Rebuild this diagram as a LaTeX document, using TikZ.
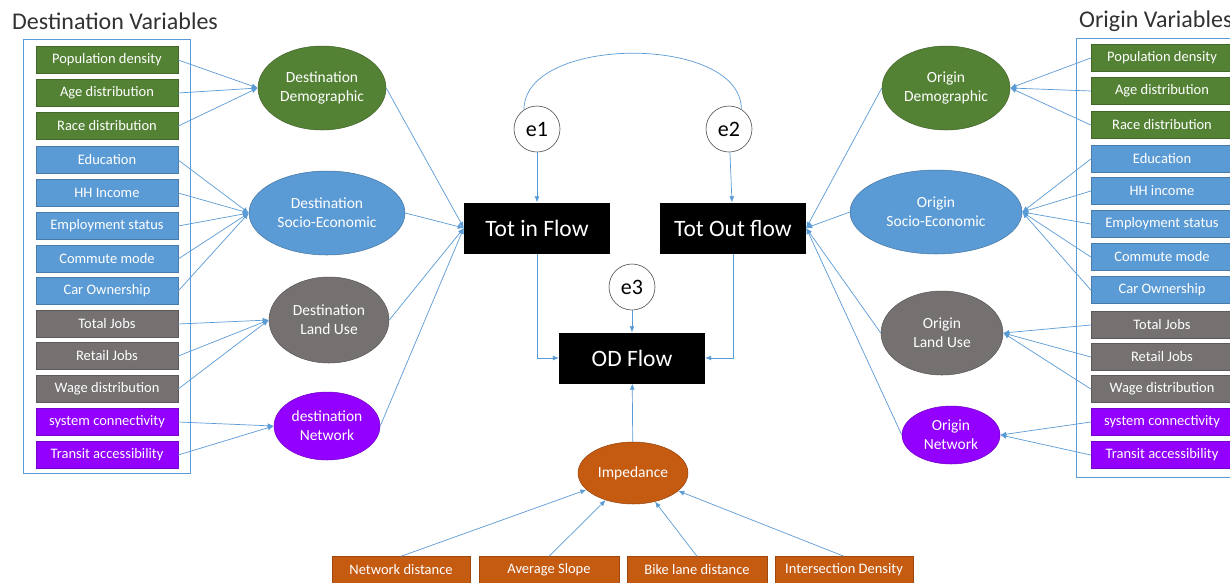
\documentclass[tikz,border=0pt]{standalone}
\usepackage{fontspec}
\setmainfont{Carlito}
\usetikzlibrary{arrows.meta,shapes.geometric}
\definecolor{demgreen}{RGB}{84,130,53}
\definecolor{sesblue}{RGB}{91,155,213}
\definecolor{lugray}{RGB}{118,113,113}
\definecolor{netpurple}{RGB}{148,0,255}
\definecolor{impbrown}{RGB}{197,90,17}
\definecolor{linkblue}{RGB}{91,155,213}
\definecolor{titlegray}{RGB}{50,50,50}

\begin{document}
\begin{tikzpicture}[x=1pt,y=-1pt,
	varbox/.style={draw=#1!80!black, line width=0.4pt, fill=#1, text=white, minimum width=142pt, minimum height=27pt, inner sep=0pt, font=\fontsize{14.5}{17}\selectfont},
	latent/.style={ellipse, draw=#1!75!black, line width=0.5pt, fill=#1, text=white, align=center, inner sep=0pt, font=\fontsize{15.5}{19}\selectfont},
	flowbox/.style={fill=black, text=white, minimum width=146pt, minimum height=51pt, inner sep=0pt, font=\fontsize{23.5}{27}\selectfont},
	errc/.style={circle, draw=black!70, line width=0.6pt, fill=white, minimum size=46pt, inner sep=0pt, font=\fontsize{22}{26}\selectfont},
	arr/.style={draw=linkblue, line width=0.7pt, -{Latex[length=6pt,width=5pt]}},
	varframe/.style={draw=linkblue, line width=0.8pt},
	heading/.style={text=titlegray, inner sep=0pt, font=\fontsize{24}{28}\selectfont}]
	\useasboundingbox (0,0) rectangle (1230,582);
	\fill[white] (0,0) rectangle (1230,582);

	% titles and frames
	\node[heading, anchor=west] (dtitle) at (12,21) {Destination Variables};
	\node[heading, anchor=west] (otitle) at (1079,21) {Origin Variables};
	\draw[varframe] (23,39) rectangle (190,473);
	\draw[varframe] (1076,38) rectangle (1250,477);

	% destination variables
	\node[varbox=demgreen] (dv1) at (107,60) {Population density};
	\node[varbox=demgreen] (dv2) at (107,93) {Age distribution};
	\node[varbox=demgreen] (dv3) at (107,126) {Race distribution};
	\node[varbox=sesblue] (dv4) at (107,160) {Education};
	\node[varbox=sesblue] (dv5) at (107,193) {HH Income};
	\node[varbox=sesblue] (dv6) at (107,226) {Employment status};
	\node[varbox=sesblue] (dv7) at (107,259) {Commute mode};
	\node[varbox=sesblue] (dv8) at (107,291) {Car Ownership};
	\node[varbox=lugray] (dv9) at (107,324) {Total Jobs};
	\node[varbox=lugray] (dv10) at (107,356) {Retail Jobs};
	\node[varbox=lugray] (dv11) at (107,389) {Wage distribution};
	\node[varbox=netpurple] (dv12) at (107,422) {system connectivity};
	\node[varbox=netpurple] (dv13) at (107,455) {Transit accessibility};

	% origin variables
	\node[varbox=demgreen] (ov1) at (1162,58) {Population density};
	\node[varbox=demgreen] (ov2) at (1162,91) {Age distribution};
	\node[varbox=demgreen] (ov3) at (1162,125) {Race distribution};
	\node[varbox=sesblue] (ov4) at (1162,159) {Education};
	\node[varbox=sesblue] (ov5) at (1162,191) {HH income};
	\node[varbox=sesblue] (ov6) at (1162,224) {Employment status};
	\node[varbox=sesblue] (ov7) at (1162,257) {Commute mode};
	\node[varbox=sesblue] (ov8) at (1162,290) {Car Ownership};
	\node[varbox=lugray] (ov9) at (1162,325) {Total Jobs};
	\node[varbox=lugray] (ov10) at (1162,357) {Retail Jobs};
	\node[varbox=lugray] (ov11) at (1162,389) {Wage distribution};
	\node[varbox=netpurple] (ov12) at (1162,422) {system connectivity};
	\node[varbox=netpurple] (ov13) at (1162,455) {Transit accessibility};

	% latent variables
	\node[latent=demgreen, minimum width=128pt, minimum height=84pt] (dDem) at (322,88) {Destination\\Demographic};
	\node[latent=sesblue, minimum width=156pt, minimum height=84pt] (dSoc) at (327,213) {Destination\\Socio-Economic};
	\node[latent=lugray, minimum width=120pt, minimum height=86pt] (dLand) at (329,320) {Destination\\Land Use};
	\node[latent=netpurple, minimum width=106pt, minimum height=68pt] (dNet) at (327,426) {destination\\Network};
	\node[latent=demgreen, minimum width=128pt, minimum height=84pt] (oDem) at (946,88) {Origin\\Demographic};
	\node[latent=sesblue, minimum width=172pt, minimum height=84pt] (oSoc) at (936,212) {Origin\\Socio-Economic};
	\node[latent=lugray, minimum width=122pt, minimum height=84pt] (oLand) at (942,333) {Origin\\Land Use};
	\node[latent=netpurple, minimum width=98pt, minimum height=58pt] (oNet) at (951,435) {Origin\\Network};
	\node[latent=impbrown, minimum width=110pt, minimum height=62pt] (imp) at (633,473) {Impedance};

	% impedance variables
	\node[varbox=impbrown, minimum width=138pt] (imp1) at (401,570) {Network distance};
	\node[varbox=impbrown, minimum width=140pt] (imp2) at (549,570) {Average Slope};
	\node[varbox=impbrown, minimum width=140pt] (imp3) at (697,570) {Bike lane distance};
	\node[varbox=impbrown, minimum width=138pt] (imp4) at (844,570) {Intersection Density};

	% flows and errors
	\node[flowbox] (tin) at (537,228) {Tot in Flow};
	\node[flowbox] (tout) at (733,228) {Tot Out flow};
	\node[flowbox] (odf) at (632,358) {OD Flow};
	\node[errc] (e1) at (537,129) {e1};
	\node[errc] (e2) at (729,129) {e2};
	\node[errc] (e3) at (632,287) {e3};

	% destination side
	\draw[arr] (dv1.east) -- (dDem.west);
	\draw[arr] (dv2.east) -- (dDem.west);
	\draw[arr] (dv3.east) -- (dDem.west);
	\draw[arr] (dv4.east) -- (dSoc.west);
	\draw[arr] (dv5.east) -- (dSoc.west);
	\draw[arr] (dv6.east) -- (dSoc.west);
	\draw[arr] (dv7.east) -- (dSoc.west);
	\draw[arr] (dv8.east) -- (dSoc.west);
	\draw[arr] (dv9.east) -- (dLand.west);
	\draw[arr] (dv10.east) -- (dLand.west);
	\draw[arr] (dv11.east) -- (dLand.west);
	\draw[arr] (dv12.east) -- (dNet.west);
	\draw[arr] (dv13.east) -- (dNet.west);
	\draw[arr] (dDem.east) -- (tin.west);
	\draw[arr] (dSoc.east) -- (tin.west);
	\draw[arr] (dLand.east) -- (tin.west);
	\draw[arr] (dNet.east) -- (tin.west);

	% origin side
	\draw[arr] (ov1.west) -- (oDem.east);
	\draw[arr] (ov2.west) -- (oDem.east);
	\draw[arr] (ov3.west) -- (oDem.east);
	\draw[arr] (ov4.west) -- (oSoc.east);
	\draw[arr] (ov5.west) -- (oSoc.east);
	\draw[arr] (ov6.west) -- (oSoc.east);
	\draw[arr] (ov7.west) -- (oSoc.east);
	\draw[arr] (ov8.west) -- (oSoc.east);
	\draw[arr] (ov9.west) -- (oLand.east);
	\draw[arr] (ov10.west) -- (oLand.east);
	\draw[arr] (ov11.west) -- (oLand.east);
	\draw[arr] (ov12.west) -- (oNet.east);
	\draw[arr] (ov13.west) -- (oNet.east);
	\draw[arr] (oDem.west) -- (tout.east);
	\draw[arr] (oSoc.west) -- (tout.east);
	\draw[arr] (oLand.west) -- (tout.east);
	\draw[arr] (oNet.west) -- (tout.east);

	% centre
	\draw[arr] (e1) -- (tin);
	\draw[arr] (e2) -- (tout);
	\draw[arr] (e3) -- (odf);
	\draw[arr] (tin) |- (odf);
	\draw[arr] (tout) |- (odf);
	\draw[arr] (imp) -- (odf);
	\draw[draw=linkblue, line width=0.7pt] (e1.124) .. controls +(0,-75) and +(0,-75) .. (e2.58);

	% impedance
	\draw[arr] (imp1.north) -- (imp);
	\draw[arr] (imp2.north) -- (imp);
	\draw[arr] (imp3.north) -- (imp);
	\draw[arr] (imp4.north) -- (imp);
\end{tikzpicture}
\end{document}
